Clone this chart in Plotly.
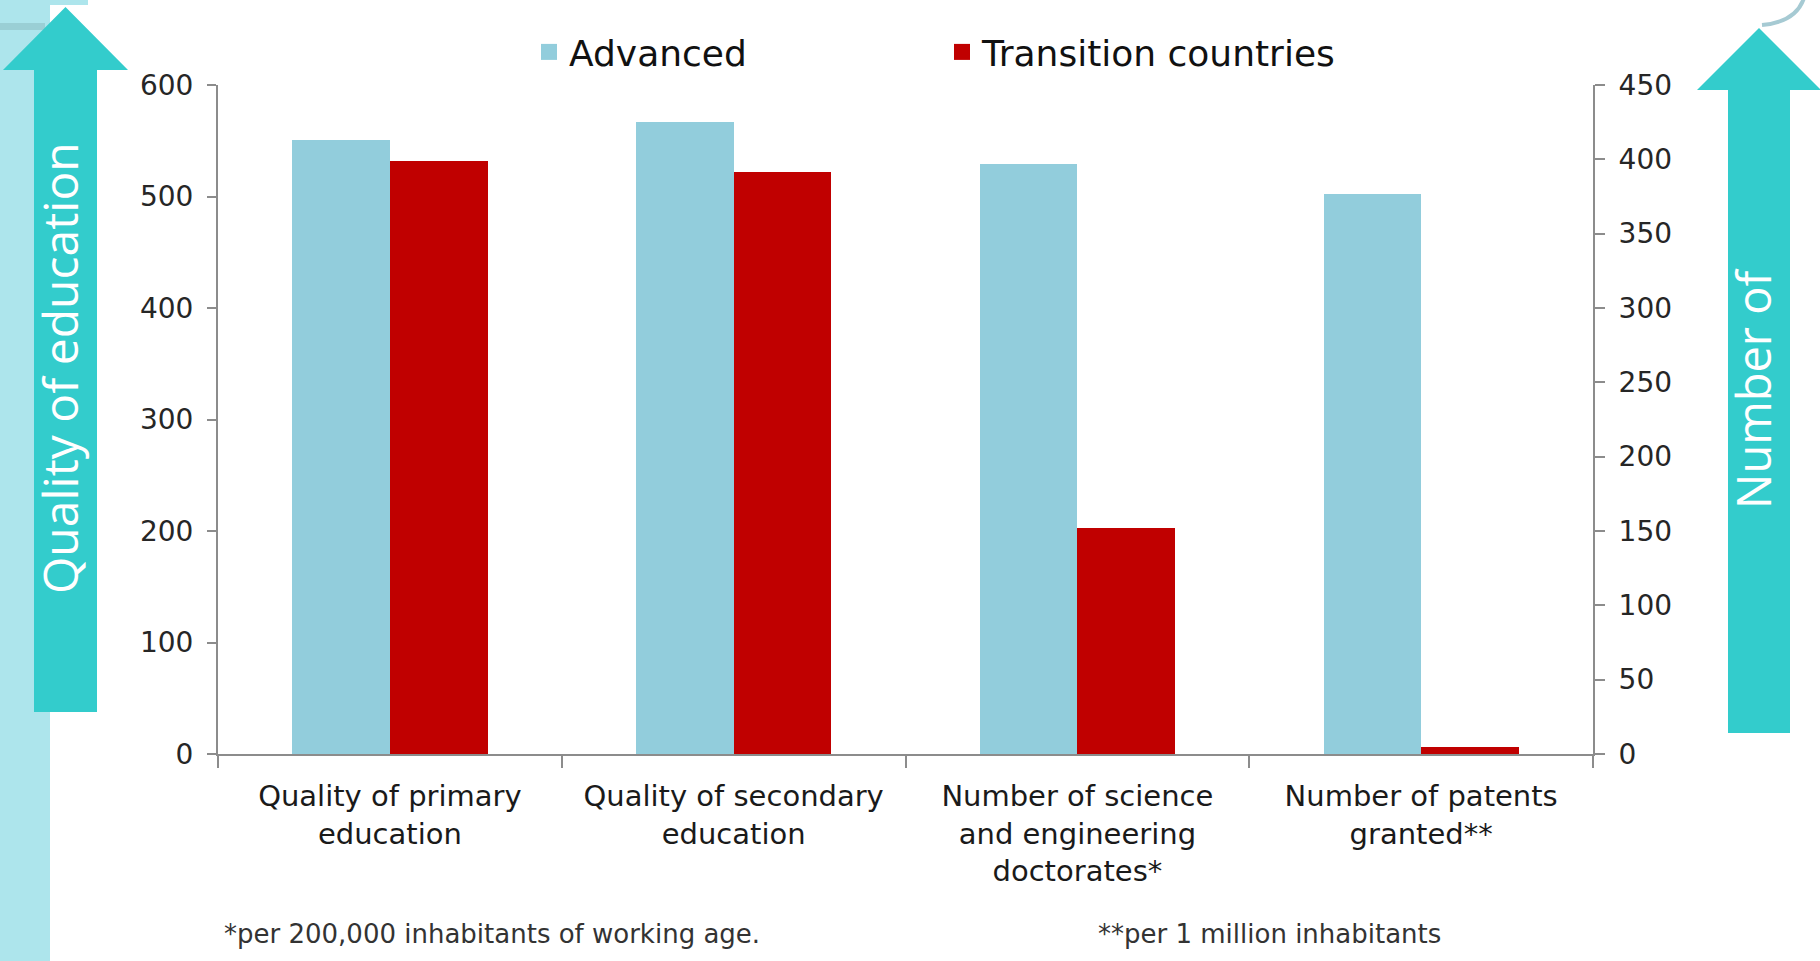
import plotly.graph_objects as go

# ---- data ----
categories = [
    "Quality of primary<br>education",
    "Quality of secondary<br>education",
    "Number of science<br>and engineering<br>doctorates*",
    "Number of patents<br>granted**",
]
advanced_quality = [551, 567]        # left axis (quality scores)
transition_quality = [532, 522]
advanced_counts = [397, 377]         # right axis (per-capita counts)
transition_counts = [152, 5]

left_ticks = [0, 100, 200, 300, 400, 500, 600]
right_ticks = [0, 50, 100, 150, 200, 250, 300, 350, 400, 450]

# ---- styling ----
W, H = 1820, 961
ML, MR, MT, MB = 218, 227, 85, 207
PW, PH = W - ML - MR, H - MT - MB

C_ADV = "#92CDDC"
C_TRN = "#C00000"
C_ARROW = "#33CCCC"
C_BAND = "#ADE5EC"
AXIS = "#8C8C8C"
FONT = "DejaVu Sans"


def px(x):
    return (x - ML) / PW


def py(y):
    return (H - MB - y) / PH


BW = 0.284

fig = go.Figure()
fig.add_trace(go.Bar(x=categories[:2], y=advanced_quality, name="Advanced",
                     marker=dict(color=C_ADV, line=dict(width=0)),
                     width=BW, offset=-BW, yaxis="y", showlegend=False))
fig.add_trace(go.Bar(x=categories[:2], y=transition_quality, name="Transition countries",
                     marker=dict(color=C_TRN, line=dict(width=0)),
                     width=BW, offset=0, yaxis="y", showlegend=False))
fig.add_trace(go.Bar(x=categories[2:], y=advanced_counts, name="Advanced",
                     marker=dict(color=C_ADV, line=dict(width=0)),
                     width=BW, offset=-BW, yaxis="y2", showlegend=False))
fig.add_trace(go.Bar(x=categories[2:], y=transition_counts, name="Transition countries",
                     marker=dict(color=C_TRN, line=dict(width=0)),
                     width=BW, offset=0, yaxis="y2", showlegend=False))

# legend entries with larger square swatches
for nm, col in [("Advanced", C_ADV), ("Transition countries", C_TRN)]:
    fig.add_trace(go.Scatter(x=[None], y=[None], mode="markers", name=nm,
                             marker=dict(symbol="square", size=20, color=col),
                             showlegend=True, hoverinfo="skip"))

shapes = []
# light band at left edge
shapes.append(dict(type="rect", xref="paper", yref="paper", layer="below",
                   x0=px(0), x1=px(50), y0=py(H), y1=py(0),
                   fillcolor=C_BAND, line=dict(width=0)))
shapes.append(dict(type="rect", xref="paper", yref="paper", layer="below",
                   x0=px(0), x1=px(88), y0=py(5), y1=py(0),
                   fillcolor=C_BAND, line=dict(width=0)))
shapes.append(dict(type="rect", xref="paper", yref="paper", layer="below",
                   x0=px(0), x1=px(45), y0=py(30), y1=py(23),
                   fillcolor="#9ACFD5", line=dict(width=0)))


def arrow_path(x_left, x_right, head_l, head_r, apex_y, base_y, bottom):
    cx = (head_l + head_r) / 2
    pts = [(cx, apex_y), (head_r, base_y), (x_right, base_y), (x_right, bottom),
           (x_left, bottom), (x_left, base_y), (head_l, base_y)]
    return "M " + " L ".join(f"{px(a):.5f},{py(b):.5f}" for a, b in pts) + " Z"


shapes.append(dict(type="path", xref="paper", yref="paper",
                   path=arrow_path(34, 97, 3, 128, 7, 70, 712),
                   fillcolor=C_ARROW, line=dict(width=0)))
shapes.append(dict(type="path", xref="paper", yref="paper",
                   path=arrow_path(1728, 1790, 1697, 1821, 28, 90, 733),
                   fillcolor=C_ARROW, line=dict(width=0)))
# decorative arc in the upper right corner
shapes.append(dict(type="path", xref="paper", yref="paper",
                   path=f"M {px(1762):.5f},{py(25):.5f} Q {px(1796):.5f},{py(22):.5f} {px(1804):.5f},{py(-2):.5f}",
                   line=dict(color="#A6CAD3", width=4)))

annotations = [
    dict(text="Quality of education", xref="paper", yref="paper",
         x=px(59), y=py(368), textangle=-90, showarrow=False,
         font=dict(family="Open Sans", size=48, color="white"),
         xanchor="center", yanchor="middle"),
    dict(text="Number of", xref="paper", yref="paper",
         x=px(1753), y=py(389), textangle=-90, showarrow=False,
         font=dict(family="Open Sans", size=47, color="white"),
         xanchor="center", yanchor="middle"),
    dict(text="*per 200,000 inhabitants of working age.", xref="paper", yref="paper",
         x=px(222), y=py(934), showarrow=False, xanchor="left", yanchor="middle",
         font=dict(family=FONT, size=26, color="#333333")),
    dict(text="**per 1 million inhabitants", xref="paper", yref="paper",
         x=px(1096), y=py(934), showarrow=False, xanchor="left", yanchor="middle",
         font=dict(family=FONT, size=26, color="#333333")),
]

fig.update_layout(
    width=W, height=H,
    margin=dict(l=ML, r=MR, t=MT, b=MB, pad=0),
    paper_bgcolor="white", plot_bgcolor="white",
    font=dict(family=FONT, color="#262626"),
    barmode="overlay",
    bargap=0,
    shapes=shapes,
    annotations=annotations,
    showlegend=True,
    legend=dict(orientation="h", x=px(529), y=py(52), xanchor="left", yanchor="middle",
                font=dict(family=FONT, size=36, color="#111111"),
                entrywidth=368, entrywidthmode="pixels",
                bgcolor="rgba(0,0,0,0)", itemclick=False, traceorder="normal"),
    xaxis=dict(type="category", categoryorder="array", categoryarray=categories,
               range=[-0.5, 3.5], showline=True, linecolor=AXIS, linewidth=2,
               ticks="outside", tickson="boundaries", ticklen=12, tickcolor=AXIS,
               tickwidth=1.5, showgrid=False, zeroline=False, ticklabelstandoff=15,
               tickfont=dict(family=FONT, size=29, color="#1a1a1a")),
    yaxis=dict(range=[0, 600], tickvals=left_ticks, showline=True, linecolor=AXIS,
               linewidth=2, ticks="outside", ticklen=9, tickcolor=AXIS, tickwidth=1.5,
               showgrid=False, zeroline=False, ticklabelstandoff=8,
               tickfont=dict(family=FONT, size=28, color="#262626")),
    yaxis2=dict(range=[0, 450], tickvals=right_ticks, overlaying="y", side="right",
                showline=True, linecolor=AXIS, linewidth=2, ticks="outside", ticklen=10,
                tickcolor=AXIS, tickwidth=1.5, showgrid=False, zeroline=False,
                ticklabelstandoff=8,
                tickfont=dict(family=FONT, size=28, color="#262626")),
)

fig.write_html("out.html")
